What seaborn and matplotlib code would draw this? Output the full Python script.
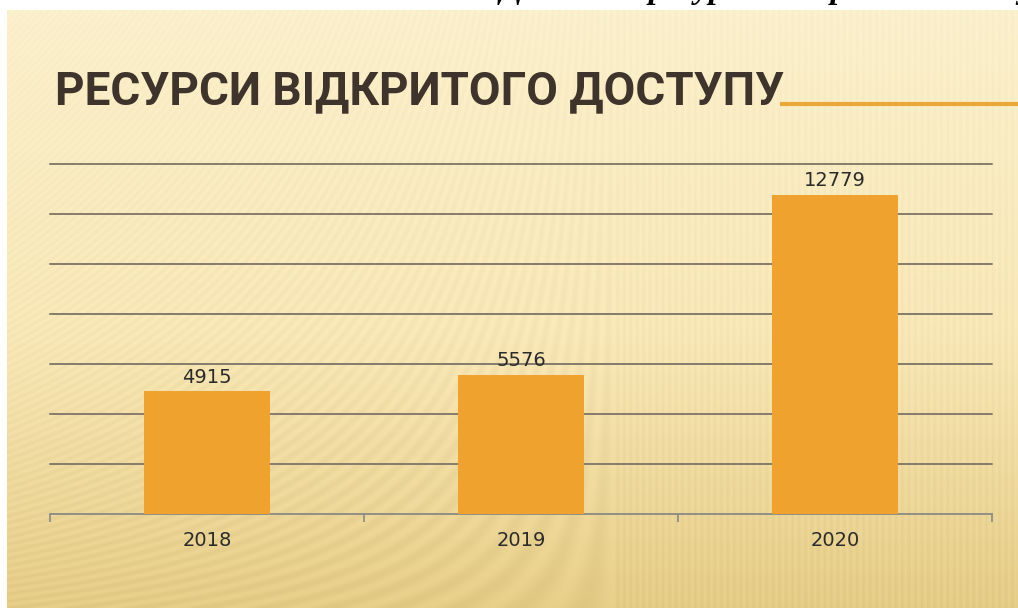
import numpy as np
import pandas as pd
import matplotlib
matplotlib.use("Agg")
import matplotlib.pyplot as plt
import seaborn as sns
from matplotlib.lines import Line2D

# ---- data ----
years = ["2018", "2019", "2020"]
values = [4915, 5576, 12779]
title_text = "РЕСУРСИ ВІДКРИТОГО ДОСТУПУ"
top_text = "Динаміка ресурсів відкритого доступу у 2018–2020 рр."

sns.set_theme(style="white")
plt.rcParams['font.family'] = ['DejaVu Sans']

W, H = 1018, 608
fig = plt.figure(figsize=(W / 100, H / 100), dpi=100, facecolor="white")

# ---- slide background (gradient with faint stripes) ----
bg = fig.add_axes([7 / W, 0, 1 - 7 / W, (H - 10) / H])
bg.set_axis_off()
ny, nx = 300, 500
yy, xx = np.mgrid[0:ny, 0:nx]
t = yy / (ny - 1)
top = np.array([253, 242, 206]) / 255
mid = np.array([251, 234, 185]) / 255
bot = np.array([233, 208, 138]) / 255
col = np.where(t[..., None] < 0.55,
               top + (mid - top) * (t[..., None] / 0.55),
               mid + (bot - mid) * ((t[..., None] - 0.55) / 0.45))
slant = np.clip(1 - xx / (nx * 0.6), 0, 1)
phase = (xx + slant * yy * 0.9) / 3.2
stripe = 0.5 + 0.5 * np.sin(phase * 2 * np.pi)
strength = 0.035 * (0.5 + 0.5 * t)
img = col - (stripe * strength)[..., None]
bg.imshow(np.clip(img, 0, 1), aspect="auto", extent=[0, 1, 0, 1], origin="upper")
bg.set_xlim(0, 1)
bg.set_ylim(0, 1)

# ---- chart ----
ax = fig.add_axes([50 / W, (H - 514) / H, 942 / W, 350 / H])
ax.patch.set_alpha(0)
df = pd.DataFrame({"year": years, "value": values})
sns.barplot(data=df, x="year", y="value", ax=ax, color="#F0A22E",
            width=0.4, saturation=1, zorder=3, edgecolor="none", linewidth=0)
ax.set_ylim(0, 14000)
ax.set_xlim(-0.5, 2.5)
ax.set_yticks(np.arange(2000, 14001, 2000))
ax.yaxis.grid(True, color="#857C6C", linewidth=1.4, zorder=0)
for gl in ax.get_ygridlines():
    gl.set_clip_on(False)
ax.set_axisbelow(True)
ax.set_yticklabels([])
ax.tick_params(axis="y", length=0)
ax.set_xlabel("")
ax.set_ylabel("")
for s in ["top", "right", "left"]:
    ax.spines[s].set_visible(False)
ax.spines["bottom"].set_color("#8A8A85")
ax.spines["bottom"].set_linewidth(1.3)
ax.set_xticks([-0.5, 0.5, 1.5, 2.5], minor=True)
ax.tick_params(axis="x", which="minor", length=6, width=1.2, color="#8A8A85",
               direction="out", bottom=True)
ax.tick_params(axis="x", which="major", length=0, pad=12,
               labelsize=14, labelcolor="#2B2B2B")
for c in ax.containers:
    ax.bar_label(c, labels=[str(v) for v in values], padding=3,
                 fontsize=14, color="#2B2B2B")

# ---- title ----
fig.text(55 / W, 1 - 104 / H, title_text,
         family=["Liberation Sans Narrow", "Roboto", "DejaVu Sans"],
         fontweight="bold", fontsize=33, color="#3F342C",
         ha="left", va="baseline")
fig.add_artist(Line2D([780 / W, 1.0], [1 - 104 / H, 1 - 104 / H],
                      transform=fig.transFigure, color="#E8A93A",
                      linewidth=3, solid_capstyle="butt"))

# ---- caption cut off at the very top, as in the source screenshot ----
fig.text(500 / W, 1 + 2 / H, top_text, family=["Liberation Serif", "DejaVu Serif"],
         fontweight="bold", style="italic", fontsize=24, color="black",
         ha="left", va="baseline", clip_on=False)

fig.savefig("out.png", dpi=100, facecolor="white")
